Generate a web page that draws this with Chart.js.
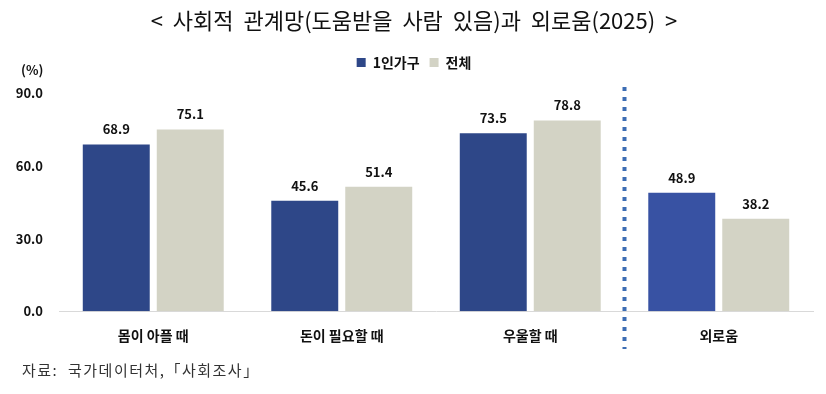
<!DOCTYPE html>
<html>
<head>
<meta charset="utf-8">
<script src="https://cdn.jsdelivr.net/npm/chart.js@4/dist/chart.umd.min.js"></script>
<style>
  html, body { margin: 0; padding: 0; background: #fff; }
  #wrap { width: 826px; height: 394px; position: relative; }
</style>
</head>
<body>
<div id="wrap"><canvas id="myChart" width="826" height="394"></canvas></div>
<script>
const categories = ['몸이 아플 때', '돈이 필요할 때', '우울할 때', '외로움'];
const singleHousehold = [68.9, 45.6, 73.5, 48.9];
const total = [75.1, 51.4, 78.8, 38.2];
const yTicks = [0, 30, 60, 90];

const titleText = '<  사회적  관계망(도움받을  사람  있음)과  외로움(2025)  >';
const unitText = '(%)';
const sourceText = '자료:  국가데이터처,「사회조사」';

const fontKR = "'Noto Sans CJK KR', 'Noto Sans', sans-serif";

// extra room under the legend
const legendGap = {
    id: 'legendGap',
    beforeInit(chart) {
        const origFit = chart.legend.fit;
        chart.legend.fit = function () {
            origFit.bind(chart.legend)();
            this.height += 14;
        };
    }
};

// value labels above the bars
const valueLabels = {
    id: 'valueLabels',
    afterDatasetsDraw(chart) {
        const ctx = chart.ctx;
        ctx.save();
        ctx.font = 'bold 13px ' + fontKR;
        ctx.fillStyle = '#111';
        ctx.textAlign = 'center';
        ctx.textBaseline = 'middle';
        chart.data.datasets.forEach((ds, i) => {
            chart.getDatasetMeta(i).data.forEach((bar, j) => {
                ctx.fillText(ds.data[j].toFixed(1), bar.x, bar.y - 15);
            });
        });
        ctx.restore();
    }
};

// dotted separator + unit label + source
const extras = {
    id: 'extras',
    afterDraw(chart) {
        const ctx = chart.ctx;
        const x = chart.scales.x;
        const sepX = (x.getPixelForValue(2) + x.getPixelForValue(3)) / 2;
        ctx.save();
        ctx.strokeStyle = '#3C6DB4';
        ctx.lineWidth = 4;
        ctx.setLineDash([4, 6]);
        ctx.beginPath();
        ctx.moveTo(sepX, 87);
        ctx.lineTo(sepX, 349);
        ctx.stroke();
        ctx.setLineDash([]);

        ctx.font = 'bold 13px ' + fontKR;
        ctx.fillStyle = '#111';
        ctx.textAlign = 'left';
        ctx.textBaseline = 'middle';
        ctx.fillText(unitText, 21, 70);

        ctx.font = '15px ' + fontKR;
        ctx.letterSpacing = '1.5px';
        ctx.fillStyle = '#333';
        ctx.fillText(sourceText, 22, 370);
        ctx.restore();
    }
};

const ctx = document.getElementById('myChart').getContext('2d');
new Chart(ctx, {
    type: 'bar',
    data: {
        labels: categories,
        datasets: [{
            label: '1인가구',
            data: singleHousehold,
            backgroundColor: ['#2E4788', '#2E4788', '#2E4788', '#3852A3'],
            categoryPercentage: 0.785,
            barPercentage: 0.905
        }, {
            label: '전체',
            data: total,
            backgroundColor: '#D3D3C5',
            categoryPercentage: 0.785,
            barPercentage: 0.905
        }]
    },
    options: {
        responsive: false,
        animation: false,
        layout: { padding: { left: 15, right: 13, top: 0, bottom: 42 } },
        plugins: {
            title: {
                display: true,
                text: titleText,
                color: '#111',
                font: { family: fontKR, size: 22, weight: 'normal' },
                padding: { top: 7, bottom: 12 }
            },
            legend: {
                display: true,
                position: 'top',
                labels: {
                    color: '#111',
                    font: { family: fontKR, size: 14, weight: 'bold' },
                    boxWidth: 9,
                    boxHeight: 9,
                    padding: 10
                }
            },
            tooltip: { enabled: false }
        },
        scales: {
            x: {
                grid: { display: false },
                border: { color: '#D9D9D9', width: 1 },
                ticks: {
                    color: '#111',
                    padding: 8,
                    font: { family: fontKR, size: 14, weight: 'bold' }
                }
            },
            y: {
                min: 0,
                max: 90,
                afterBuildTicks: axis => { axis.ticks = yTicks.map(v => ({ value: v })); },
                afterFit: axis => { axis.width = 44; },
                grid: { display: false, drawTicks: false },
                border: { display: false },
                ticks: {
                    color: '#111',
                    padding: 16,
                    font: { family: fontKR, size: 13, weight: 'bold' },
                    callback: v => v.toFixed(1)
                }
            }
        }
    },
    plugins: [legendGap, valueLabels, extras]
});
</script>
</body>
</html>
